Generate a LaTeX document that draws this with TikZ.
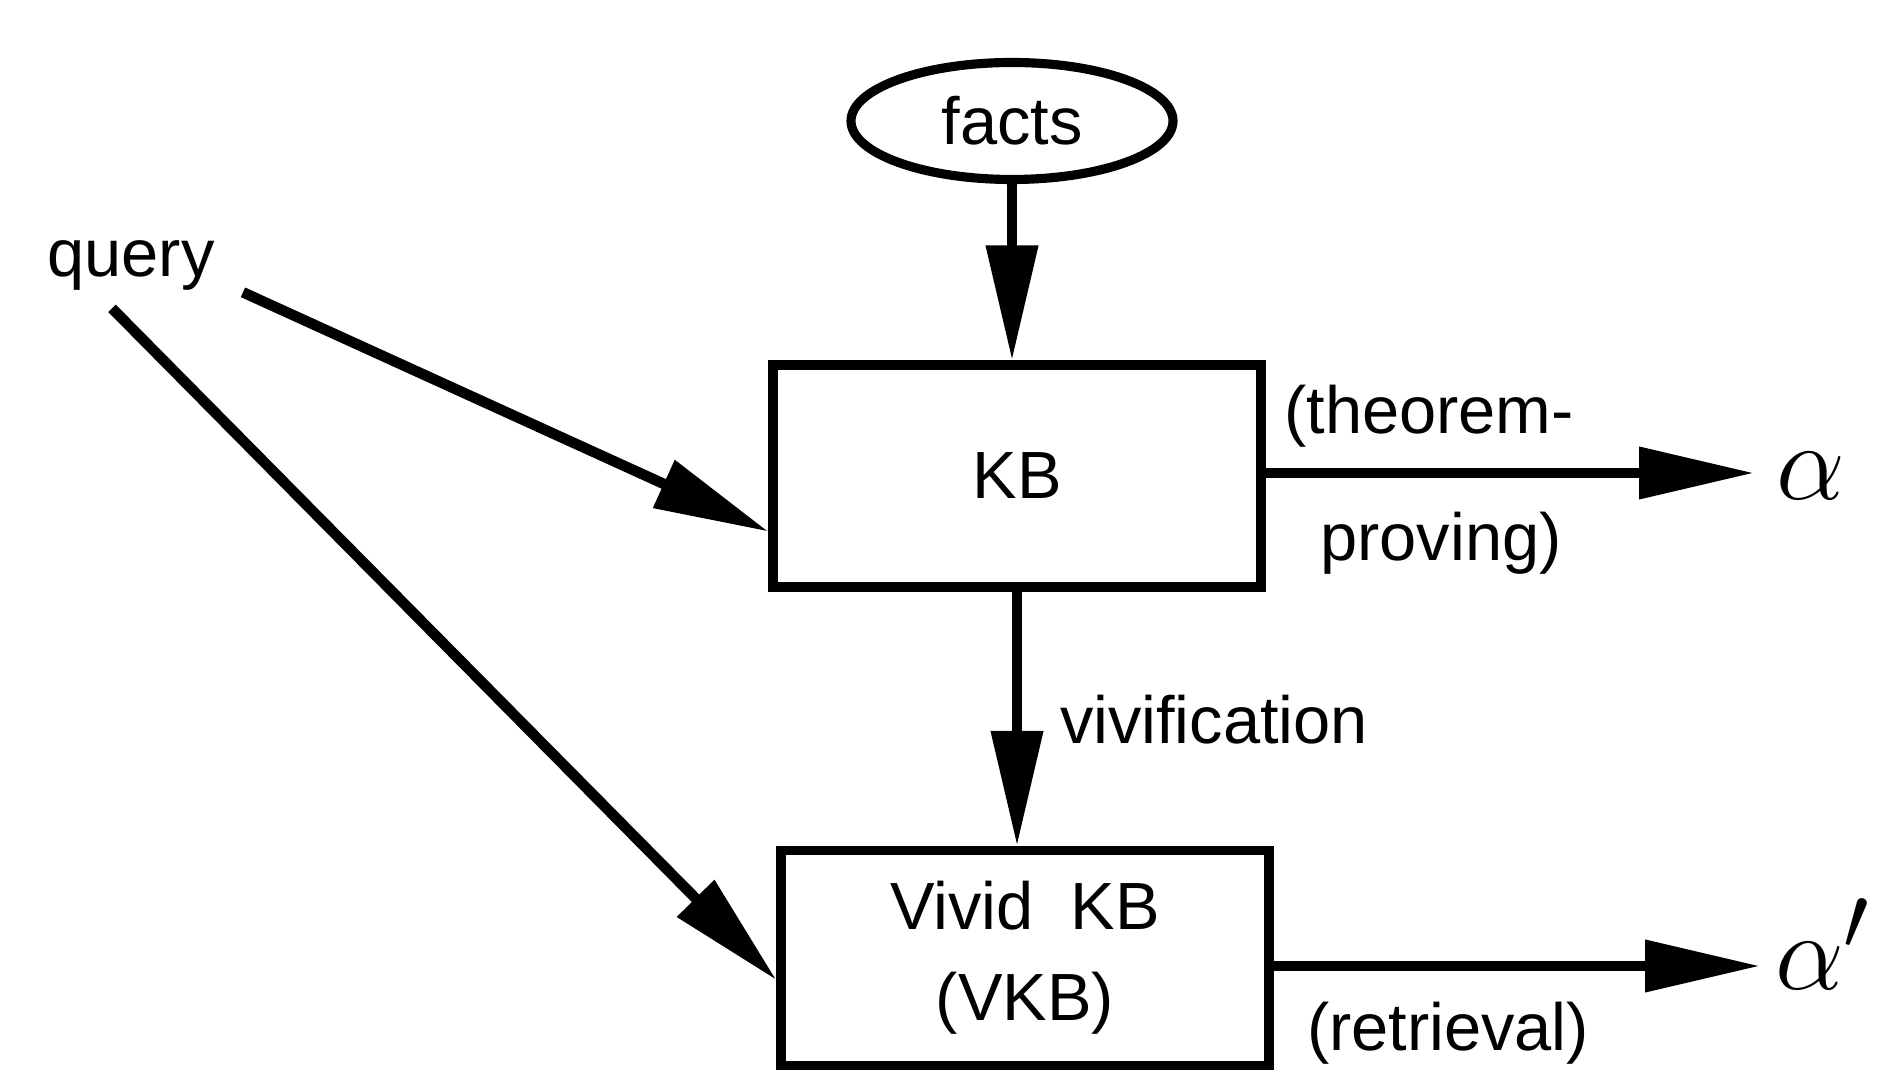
\documentclass[tikz,border=0pt]{standalone}
\usepackage{fontspec}
\setmainfont{Liberation Sans}
\usetikzlibrary{arrows.meta, shapes.geometric, calc}

\begin{document}
\begin{tikzpicture}[
        box/.style={rectangle, draw, line width=2.6pt, minimum width=4.88cm, align=center},
        link/.style={-{Triangle[length=1.15cm, width=0.5cm]}, line width=3pt},
        lbl/.style={font=\fontsize{19}{26}\selectfont},
        greek/.style={font=\fontsize{24.88}{26}\selectfont}
    ]
            \useasboundingbox (0, 0) rectangle (19.03, 10.74);

            \node[ellipse, draw, line width=2.6pt, minimum width=3.22cm, minimum height=1.17cm, lbl] at (10.12, 9.53) (facts) {facts};
            \node[box, lbl, minimum height=2.22cm] at (10.17, 5.98) (kb) {KB};
            \node[box, lbl, minimum height=2.15cm] at (10.25, 1.16) (vkb) {Vivid\ \ KB\\(VKB)};
            \node[lbl] at (1.31, 8.09) (query) {query};

            \node[greek, anchor=base] at (18.11, 5.74) (alpha) {\scalebox{1.25}{$\alpha$}};
            \node[greek, anchor=base] at (18.23, 0.85) (alphap) {\scalebox{1.25}{$\alpha'$}};
            \coordinate (thm) at (17.54, 6.01);
            \coordinate (ret) at (17.60, 1.08);

            % labels of the arrows
            \node[lbl] at (14.29, 6.58) (thm_a) {(theorem-};
            \node[lbl] at (14.41, 5.31) (thm_b) {proving)};
            \node[lbl] at (12.14, 3.54) (viv) {vivification};
            \node[lbl] at (14.48, 0.41) (retr) {(retrieval)};

            \draw[link] (facts.south) -- (facts.south |- kb.north);
            \draw[link] (kb.south) -- (kb.south |- vkb.north);
            \draw[link] (kb.east |- thm) -- (thm);
            \draw[link] (vkb.east |- ret) -- (ret);

            \draw[link] ($(query.south east)+(0.16, 0.1)$) -- ($(kb.south west)+(0, 0.6)$);
            \draw[link] ($(query.south)+(-0.19, -0.06)$) -- ($(vkb.south west)+(0, 0.9)$);
        \end{tikzpicture}
\end{document}
